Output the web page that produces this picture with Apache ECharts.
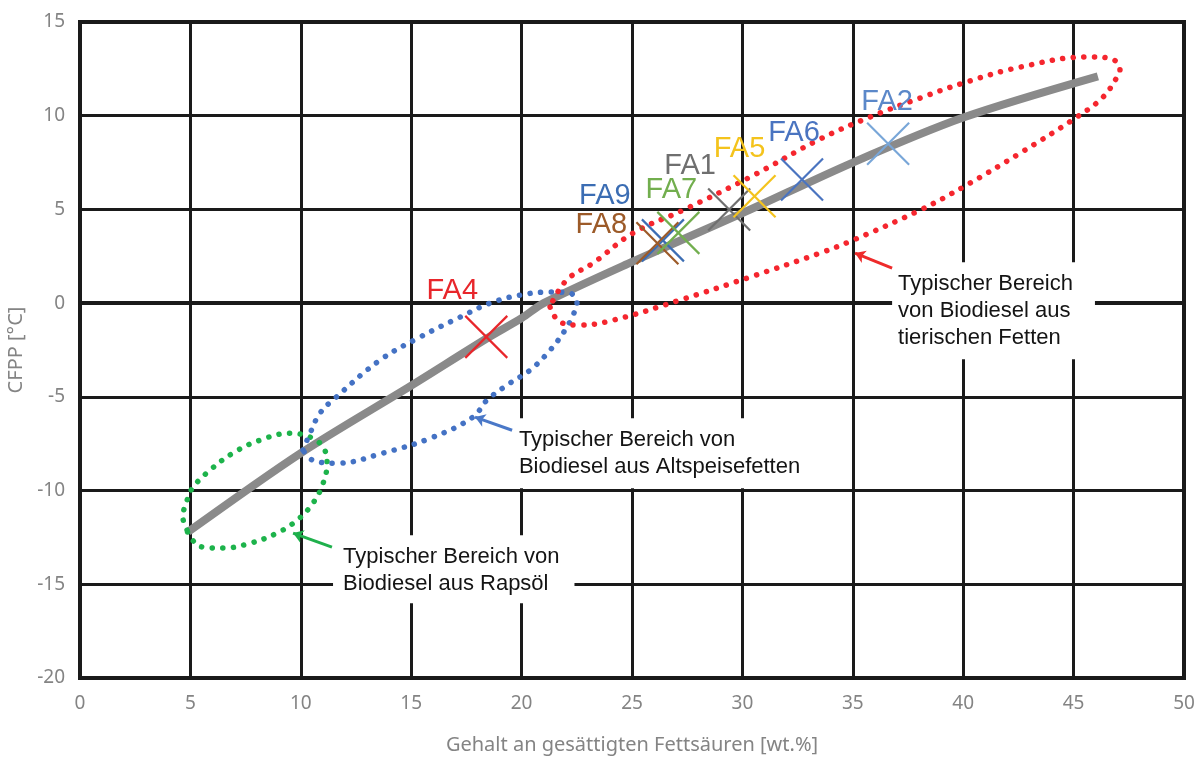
<!DOCTYPE html>
<html>
<head>
<meta charset="utf-8">
<script src="https://cdn.jsdelivr.net/npm/echarts@6/dist/echarts.min.js"></script>
<style>
html,body{margin:0;padding:0;background:#fff;}
#chart{width:1203px;height:762px;}
</style>
</head>
<body>
<div id="chart"></div>
<script>
// ---- data ----
const xAxisName = 'Gehalt an gesättigten Fettsäuren [wt.%]';
const yAxisName = 'CFPP [°C]';

// grey trend curve
const curveX = [4.9, 10, 15, 18.4, 20, 21, 25, 30, 35, 40, 46.1];
const curveY = [-12.2, -8.0, -4.4, -1.9, -0.8, 0.0, 2.2, 4.8, 7.5, 9.9, 12.1];

// samples
const sampleNames = ['FA4', 'FA9', 'FA8', 'FA7', 'FA1', 'FA5', 'FA6', 'FA2'];
const sampleX = [18.4, 26.4, 26.15, 27.1, 29.4, 30.55, 32.7, 36.6];
const sampleY = [-1.8, 3.35, 3.2, 3.75, 5.0, 5.7, 6.6, 8.5];

// outline of region "Rapsöl" (green)
const rapsX = [4.85, 4.66, 4.85, 5.12, 5.89, 6.93, 8.15, 9.51, 10.42, 11.01, 11.19, 11.01, 10.55, 9.83, 8.92, 7.70, 6.48, 5.57, 4.98, 4.85];
const rapsY = [-12.11, -11.42, -10.51, -9.82, -8.91, -8.00, -7.31, -6.94, -7.15, -7.68, -8.54, -9.61, -10.67, -11.58, -12.27, -12.81, -13.07, -13.02, -12.49, -12.11];

// outline of region "Altspeisefetten" (blue)
const altX = [10.10, 10.42, 10.87, 11.55, 13.59, 15.40, 17.21, 18.57, 19.93, 21.29, 22.19, 22.51, 22.28, 21.97, 21.29, 20.38, 19.47, 18.43, 17.80, 15.99, 13.72, 11.64, 10.55, 10.10];
const altY = [-7.84, -6.94, -5.87, -5.07, -3.04, -1.81, -0.75, 0.00, 0.43, 0.59, 0.53, 0.00, -0.75, -1.44, -2.51, -3.58, -4.27, -5.18, -6.08, -7.15, -8.00, -8.54, -8.38, -7.84];

// outline of region "tierische Fette" (red)
const tierX = [21.29, 21.74, 22.64, 24.14, 27.17, 30.34, 33.51, 35.01, 38.04, 39.99, 42.57, 45.15, 46.33, 46.97, 47.10, 46.65, 45.61, 42.57, 39.99, 38.04, 35.78, 33.51, 30.34, 27.31, 25.05, 23.23, 22.19, 21.60, 21.29];
const tierY = [-0.21, -1.01, -1.17, -0.91, 0.16, 1.39, 2.67, 3.36, 4.96, 6.19, 8.00, 9.93, 10.99, 12.06, 12.43, 13.07, 13.13, 12.59, 11.74, 10.94, 9.93, 8.75, 6.72, 4.96, 3.74, 2.13, 1.39, 0.53, -0.21];

// annotation texts (anchor = top-left of the white box, in data units)
const annTexts = [
  'Typischer Bereich von\nBiodiesel aus Rapsöl',
  'Typischer Bereich von\nBiodiesel aus Altspeisefetten',
  'Typischer Bereich\nvon Biodiesel aus\ntierischen Fetten'
];
const annX = [11.46, 19.47, 36.78];
const annY = [-12.38, -6.14, 2.18];

// arrows: tail -> head (data units)
const arrowTailX = [11.41, 19.57, 36.78];
const arrowTailY = [-13.02, -6.78, 1.87];
const arrowHeadX = [9.65, 17.89, 35.10];
const arrowHeadY = [-12.27, -6.08, 2.67];

// ---- styles ----
const markColors = ['#e8262b', '#3b6db3', '#9c5a28', '#72ae4e', '#6f6f6f', '#f4c31c', '#4a74c0', '#78a6d8'];
const textColors = ['#e8262b', '#3b6db3', '#9c5a28', '#72ae4e', '#6f6f6f', '#f4c31c', '#4a74c0', '#5b88c9'];
const labelOffsets = [[-34, -46], [-58, -44], [-56, -18], [-7, -43], [-39, -43], [-15, -47], [-8, -46], [-1, -42]];
const annPadding = [[8, 15, 6, 10], [8, 10, 8, 9], [8, 22, 8, 6]];
const arrowColors = ['#1fb04c', '#4a78c8', '#ee2b2b'];
const gridColor = '#1a1a1a';
const axisTextColor = '#848484';

const zip = (xs, ys) => xs.map((x, i) => [x, ys[i]]);

const chart = echarts.init(document.getElementById('chart'), null, {renderer: 'canvas'});

function dotted(color) {
  return {color: color, width: 5.5, type: [0.1, 10.5], cap: 'round'};
}

const option = {
  animation: false,
  backgroundColor: '#fff',
  grid: {left: 80, right: 19, top: 22, bottom: 84, containLabel: false, outerBoundsMode: 'none',
    show: true, borderColor: gridColor, borderWidth: 4},
  xAxis: {
    type: 'value', min: 0, max: 50, interval: 5,
    name: xAxisName, nameLocation: 'middle', nameGap: 57,
    nameTextStyle: {color: axisTextColor, fontSize: 20, fontFamily: 'Noto Sans'},
    axisLine: {show: true, lineStyle: {color: gridColor, width: 4}},
    axisTick: {show: false},
    axisLabel: {color: axisTextColor, fontSize: 19, fontFamily: 'Noto Sans', margin: 16},
    splitLine: {show: true, lineStyle: {color: gridColor, width: 3}}
  },
  yAxis: {
    type: 'value', min: -20, max: 15, interval: 5,
    name: yAxisName, nameLocation: 'middle', nameGap: 52,
    nameTextStyle: {color: axisTextColor, fontSize: 20, fontFamily: 'Noto Sans'},
    axisLine: {show: true, lineStyle: {color: gridColor, width: 4}},
    axisTick: {show: false},
    axisLabel: {color: axisTextColor, fontSize: 19, fontFamily: 'Noto Sans', margin: 15},
    splitLine: {show: true, lineStyle: {color: gridColor, width: 3}}
  },
  series: [
    {
      type: 'custom', coordinateSystem: 'cartesian2d', z: 3, silent: true,
      data: annTexts.map((t, i) => [annX[i], annY[i], i]),
      renderItem: function (params, api) {
        const i = api.value(2);
        const c = api.coord([api.value(0), api.value(1)]);
        return {
          type: 'text', x: c[0], y: c[1],
          style: {
            text: annTexts[i], fill: '#141414', font: '22px "Liberation Sans"',
            lineHeight: 27, backgroundColor: '#fff', padding: annPadding[i],
            align: 'left', verticalAlign: 'top'
          }
        };
      }
    },
    {
      type: 'line', z: 4, data: zip(curveX, curveY), smooth: 0.3, symbol: 'none', silent: true,
      lineStyle: {color: '#8a8a8a', width: 8},
      markLine: {
        silent: true, symbol: ['none', 'arrow'], symbolSize: 10,
        label: {show: false},
        data: arrowTailX.map((x, i) => [
          {coord: [x, arrowTailY[i]], lineStyle: {color: arrowColors[i], width: 3, type: 'solid'}, itemStyle: {color: arrowColors[i]}},
          {coord: [arrowHeadX[i], arrowHeadY[i]]}
        ])
      }
    },
    {type: 'line', z: 5, data: zip(rapsX, rapsY), smooth: 0.4, symbol: 'none', silent: true, lineStyle: dotted('#1db34b')},
    {type: 'line', z: 5, data: zip(altX, altY), smooth: 0.4, symbol: 'none', silent: true, lineStyle: dotted('#4472c4')},
    {type: 'line', z: 5, data: zip(tierX, tierY), smooth: 0.4, symbol: 'none', silent: true, lineStyle: dotted('#f5262e')},
    {
      type: 'custom', coordinateSystem: 'cartesian2d', z: 6, silent: true,
      data: sampleNames.map((n, i) => [sampleX[i], sampleY[i], i]),
      renderItem: function (params, api) {
        const i = api.value(2);
        const c = api.coord([api.value(0), api.value(1)]);
        const h = 21;
        const col = markColors[i];
        return {
          type: 'group',
          children: [
            {type: 'line', shape: {x1: c[0] - h, y1: c[1] - h, x2: c[0] + h, y2: c[1] + h}, style: {stroke: col, lineWidth: 2.2}},
            {type: 'line', shape: {x1: c[0] - h, y1: c[1] + h, x2: c[0] + h, y2: c[1] - h}, style: {stroke: col, lineWidth: 2.2}},
            {type: 'text', x: c[0] + labelOffsets[i][0], y: c[1] + labelOffsets[i][1],
              style: {text: sampleNames[i], fill: textColors[i], font: '29px "Liberation Sans"', align: 'center', verticalAlign: 'middle'}}
          ]
        };
      }
    }
  ]
};
chart.setOption(option);
</script>
</body>
</html>
